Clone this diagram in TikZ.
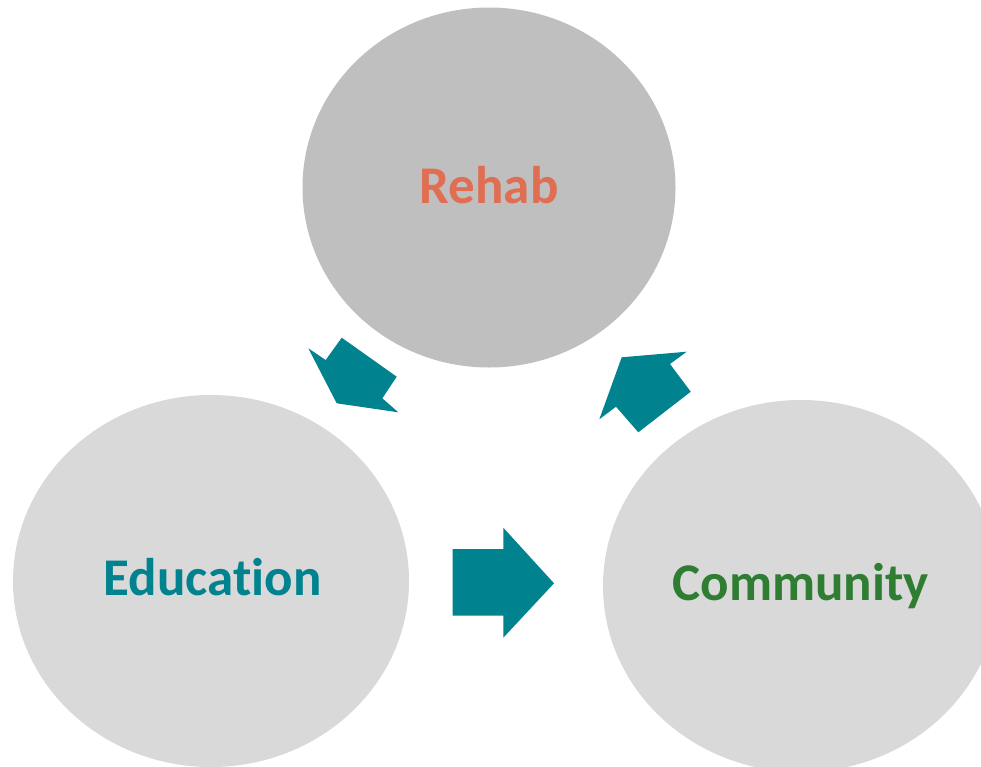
\documentclass[tikz,border=0pt]{standalone}
\usepackage{fontspec}
\setmainfont[Ligatures=NoCommon]{Carlito}
\definecolor{teal1}{RGB}{0,130,143}
\definecolor{rehabgray}{RGB}{191,191,191}
\definecolor{lightgray1}{RGB}{217,217,217}
\definecolor{rehabtxt}{RGB}{224,110,82}
\definecolor{commtxt}{RGB}{46,125,50}
\tikzset{
  blob/.style={fill=#1, draw=none},
  lbl/.style={anchor=base, inner sep=0pt, font=\fontsize{53}{63}\selectfont\bfseries},
  cyclearrow/.style={fill=teal1, draw=none}
}
\begin{document}
\begin{tikzpicture}[x=1pt,y=-1pt]
\useasboundingbox (0,0) rectangle (981,766);
\begin{scope}
\clip (0,0) rectangle (981,766);
\fill[blob=rehabgray] (489,187.5) ellipse [x radius=186.5, y radius=180];
\fill[blob=lightgray1] (211,581) ellipse [x radius=198, y radius=186];
\fill[blob=lightgray1] (801,586) ellipse [x radius=198, y radius=186];
\end{scope}
\node[lbl, text=rehabtxt] (rehab) at (489,203.5) {Rehab};
\node[lbl, text=teal1] (education) at (212.5,595.5) {Education};
\node[lbl, text=commtxt] (community) at (800.8,600.5) {Community};
% Rehab -> Education
\fill[cyclearrow] (308.3,348.3) -- (325.7,360) -- (341.7,337.7) -- (396.7,376.7) -- (382.3,398.3) -- (398.3,412.3) -- (336.7,403.3) -- cycle;
% Education -> Community
\fill[cyclearrow] (452.7,549) -- (503.3,549) -- (503.3,527.7) -- (554,583.3) -- (503.3,637.7) -- (503.3,615.7) -- (452.7,615.7) -- cycle;
% Community -> Rehab
\fill[cyclearrow] (599.3,419.3) -- (616,406.7) -- (638.3,432.3) -- (690.7,391.7) -- (670,364) -- (686.7,351.7) -- (621.7,357.3) -- cycle;
\end{tikzpicture}
\end{document}
